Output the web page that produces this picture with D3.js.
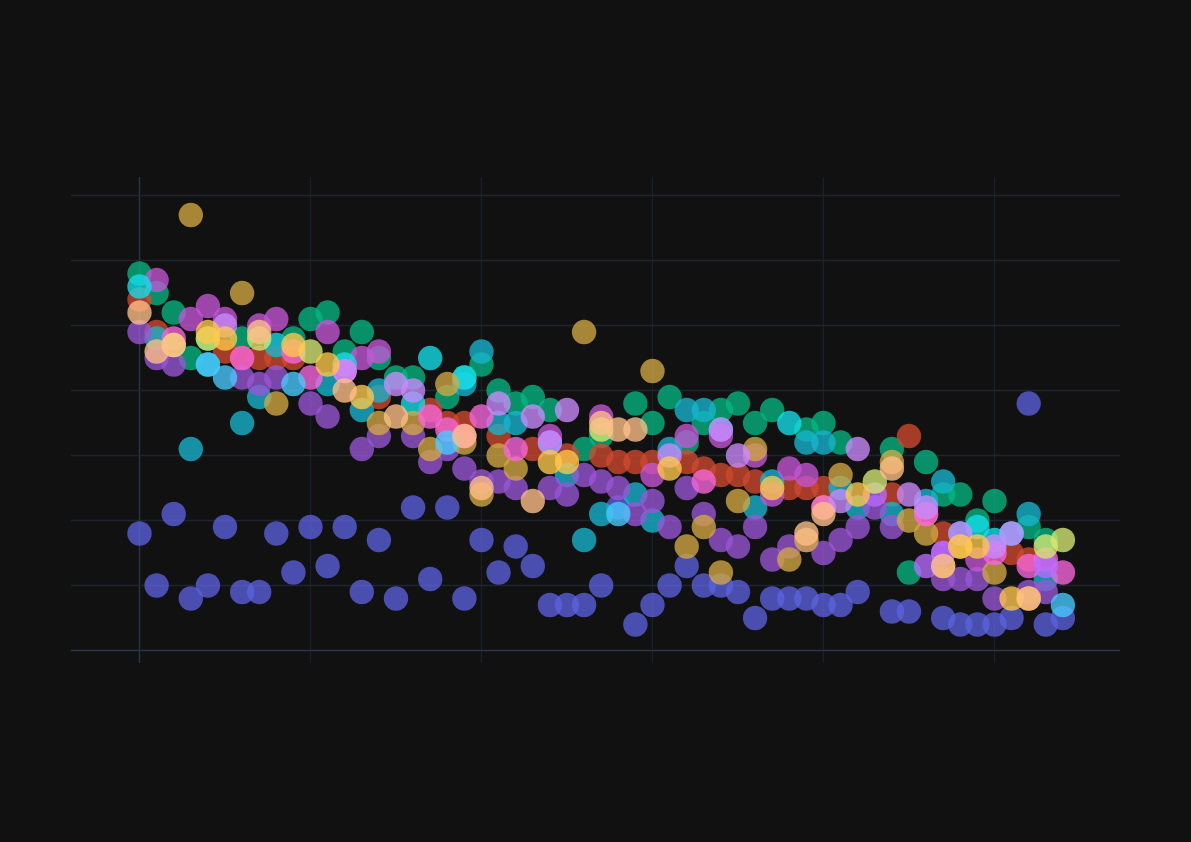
<!DOCTYPE html>
<html><head><meta charset="utf-8">
<script src="https://cdn.jsdelivr.net/npm/d3@7/dist/d3.min.js"></script>
<style>html,body{margin:0;background:#111111}svg{display:block}</style>
</head><body><svg id="c" width="1191" height="842"></svg>
<script>
const xTicks=[0,10,20,30,40,50];
const yTicks=[0,10,20,30,40,50,60,70];
const indigo=[[0,18],[1,10],[2,21],[3,8],[4,10],[5,19],[6,9],[7,9],[8,18],[9,12],[10,19],[11,13],[12,19],[13,9],[14,17],[15,8],[16,22],[17,11],[18,22],[19,8],[20,17],[21,12],[22,16],[23,13],[24,7],[25,7],[26,7],[27,10],[28,22],[29,4],[30,7],[31,10],[32,13],[33,10],[34,10],[35,9],[36,5],[37,8],[38,8],[39,8],[40,7],[41,7],[42,9],[44,6],[45,6],[47,5],[48,4],[49,4],[50,4],[51,5],[52,38],[53,4],[54,5]];
const green=[[0,58],[1,55],[2,52],[3,45],[4,48],[6,48],[8,47],[9,48],[10,51],[11,52],[12,46],[13,49],[14,45],[15,42],[16,42],[18,39],[19,42],[20,44],[21,40],[22,38],[23,39],[24,37],[26,31],[27,33],[29,38],[30,35],[31,39],[32,32],[33,35],[34,37],[35,38],[36,35],[37,37],[39,34],[40,35],[41,32],[44,31],[45,12],[46,29],[47,24],[48,24],[49,20],[50,23],[52,19],[53,17]];
const red=[[0,54],[1,49],[5,46],[6,45],[7,45],[8,45],[9,45],[14,39],[17,37],[18,35],[19,35],[21,33],[23,31],[25,30],[27,30],[28,29],[29,29],[30,29],[32,29],[33,28],[34,27],[35,27],[36,26],[38,25],[39,25],[40,25],[44,24],[45,33],[46,21],[47,18],[51,15],[52,14]];
const teal=[[1,48],[3,31],[4,44],[6,35],[7,39],[8,47],[11,41],[13,37],[14,40],[19,41],[20,46],[21,35],[22,35],[24,32],[25,27],[26,17],[27,21],[29,24],[30,20],[31,31],[32,37],[33,37],[34,34],[36,22],[37,26],[39,32],[40,32],[41,25],[42,22],[44,21],[46,23],[47,26],[48,18],[52,21],[53,11]];
const purple=[[0,49],[1,45],[2,44],[6,42],[7,41],[8,42],[10,38],[11,36],[13,31],[14,33],[16,33],[17,29],[18,31],[19,28],[20,26],[21,26],[22,25],[24,25],[25,24],[26,27],[27,26],[28,25],[29,21],[30,23],[31,19],[32,25],[33,21],[34,17],[35,16],[36,19],[37,14],[38,16],[39,17],[40,15],[41,17],[42,19],[43,22],[44,19],[47,11],[48,11],[49,11],[50,8],[52,9],[53,9]];
const magenta=[[1,57],[3,51],[4,53],[5,51],[7,50],[8,51],[11,49],[13,45],[14,46],[24,33],[27,36],[30,27],[32,33],[34,33],[36,30],[37,24],[38,28],[39,27],[47,15],[49,14]];
const cyan=[[0,56],[12,44],[16,38],[17,45],[19,42],[38,35],[49,19],[50,17],[51,18]];
const gold=[[3,67],[6,55],[8,38],[14,35],[16,35],[17,31],[18,41],[19,32],[20,24],[21,30],[22,28],[26,49],[30,43],[32,16],[33,19],[34,12],[35,23],[36,31],[38,14],[39,17],[40,22],[41,27],[44,29],[45,20],[46,18],[47,13],[48,16],[50,12],[52,8]];
const pink=[[2,48],[6,45],[9,46],[10,42],[12,43],[17,36],[18,34],[19,33],[20,36],[22,31],[33,26],[40,22],[46,21],[50,15],[52,13],[53,14],[54,12]];
const lilac=[[5,50],[12,43],[15,41],[16,40],[21,38],[23,36],[25,37],[31,30],[34,34],[35,30],[42,31],[41,23],[45,24],[46,22],[48,18],[50,16],[51,18],[24,32]];
const violet=[[43,24],[46,13],[47,15],[53,13]];
const blue=[[4,44],[5,42],[9,41],[18,32],[28,21],[54,7]];
const olive=[[2,47],[4,48],[7,48],[10,46],[27,34],[43,26],[53,16],[54,17]];
const amber=[[4,49],[5,48],[9,47],[11,44],[13,39],[24,29],[25,29],[31,28],[37,25],[42,24],[49,16],[48,16],[51,8]];
const peach=[[0,52],[1,46],[2,47],[7,49],[12,40],[15,36],[19,33],[20,25],[23,23],[27,35],[28,34],[29,34],[39,18],[40,21],[44,28],[47,13],[52,8]];
const seriesData=[indigo,green,red,teal,purple,magenta,cyan,gold,pink,lilac,violet,blue,olive,amber,peach];
const seriesColors=["#5b62dc","#06b583","#ce4930","#17b5ce","#9856d6","#c456d6","#15e0ec","#d3a844","#f866dc","#ca8bfc","#b76cff","#49caff","#d6e973","#ffc84c","#ffc088"];

const svg=d3.select("#c");
const x=d3.scaleLinear().domain([-3.977,57.37]).range([71.5,1120.5]);
const y=d3.scaleLinear().domain([-2,72.77]).range([663.5,177.5]);
svg.append("g").attr("transform","translate(-0.5,663)")
  .call(d3.axisBottom(x).tickValues(xTicks).tickSizeOuter(0).tickFormat(""))
  .call(g=>g.select(".domain").remove())
  .selectAll(".tick line").attr("y1",0).attr("y2",-486).attr("stroke",d=>d===0?"#273445":"#1a2029").attr("stroke-width",d=>d===0?1.5:1.3);
svg.append("g").attr("transform","translate(71,-0.5)")
  .call(d3.axisLeft(y).tickValues(yTicks).tickSize(0).tickFormat(""))
  .call(g=>g.select(".domain").remove())
  .selectAll(".tick line").attr("x1",0).attr("x2",1049).attr("stroke",d=>d===0?"#2a3645":"#1c2530").attr("stroke-width",d=>d===0?1.6:1.3);
seriesData.forEach((s,k)=>{
  svg.append("g").selectAll("circle").data(s).join("circle")
    .attr("cx",d=>x(d[0])).attr("cy",d=>y(d[1])).attr("r",12.2)
    .attr("fill",seriesColors[k]).attr("fill-opacity",0.78);
});
</script></body></html>
